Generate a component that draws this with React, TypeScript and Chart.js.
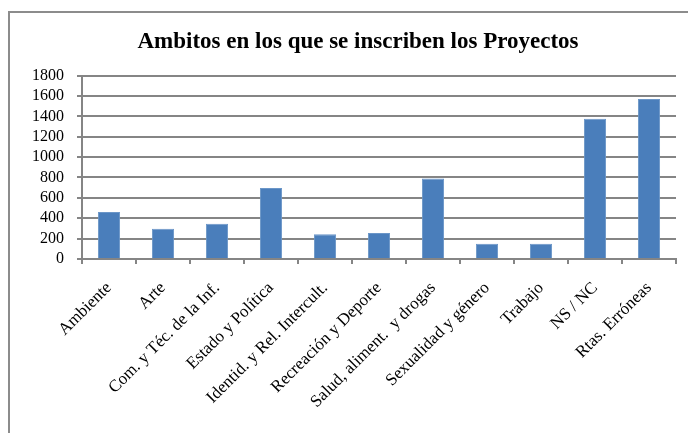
import React, { useEffect, useRef } from "react";
import { Chart, registerables } from "chart.js";

Chart.register(...registerables);

const titleText = "Ambitos en los que se inscriben los Proyectos";
const categories = [
  "Ambiente",
  "Arte",
  "Com. y Téc. de la Inf.",
  "Estado y Política",
  "Identid. y Rel. Intercult.",
  "Recreación y Deporte",
  "Salud, aliment.  y drogas",
  "Sexualidad y género",
  "Trabajo",
  "NS / NC",
  "Rtas. Erróneas",
];
const values = [462, 298, 347, 698, 242, 256, 790, 150, 150, 1377, 1570];
const yMin = 0;
const yMax = 1800;
const yStep = 200;

export default function App() {
  const ref = useRef<HTMLCanvasElement>(null);
  useEffect(() => {
    if (!ref.current) return;
    Chart.defaults.color = "#000";
    const chart = new Chart(ref.current, {
      type: "bar",
      data: {
        labels: categories,
        datasets: [
          {
            data: values,
            backgroundColor: "#4a7ebb",
            borderColor: "#6b96c8",
            borderWidth: 1,
            barPercentage: 0.41,
            categoryPercentage: 1,
          },
        ],
      },
      options: {
        responsive: false,
        animation: false,
        layout: { padding: { left: 28, right: 0, top: 0, bottom: 0 } },
        plugins: {
          legend: { display: false },
          tooltip: { enabled: false },
          title: {
            display: true,
            text: titleText,
            color: "#000",
            font: { family: "'Liberation Serif'", size: 23, weight: "bold" },
            padding: { top: 28, bottom: 20 },
          },
        },
        scales: {
          x: {
            grid: {
              offset: true,
              drawOnChartArea: false,
              drawTicks: true,
              tickLength: 5,
              color: "#858585",
              lineWidth: 2,
            },
            border: { color: "#858585", width: 2 },
            ticks: {
              minRotation: 45,
              maxRotation: 45,
              autoSkip: false,
              padding: 14,
              color: "#000",
              font: { family: "'Liberation Serif'", size: 17 },
            },
            afterFit: (s: any) => {
              s.height = 174;
            },
          },
          y: {
            min: yMin,
            max: yMax,
            grid: {
              color: "#858585",
              lineWidth: 2,
              tickLength: 5,
            },
            border: { color: "#858585", width: 2 },
            ticks: {
              stepSize: yStep,
              autoSkip: false,
              padding: 13,
              color: "#000",
              font: { family: "'Liberation Serif'", size: 16 },
              callback: (v: any) => String(v),
            },
            afterFit: (s: any) => {
              s.width = 54;
            },
          },
          yRight: {
            position: "right",
            display: true,
            min: yMin,
            max: yMax,
            grid: { display: false, drawTicks: false },
            border: { display: false },
            ticks: { display: false },
            afterFit: (s: any) => {
              s.width = 12;
            },
          },
        },
      },
    });
    return () => chart.destroy();
  }, []);
  return (
    <div style={{ position: "fixed", left: 0, top: 0, width: 688, height: 433, background: "#fff" }}>
      <div
        style={{
          position: "absolute",
          left: 8,
          top: 11,
          right: 0,
          bottom: 0,
          borderLeft: "2px solid #8c8c8c",
          borderTop: "2px solid #8c8c8c",
        }}
      />
      <canvas ref={ref} width={688} height={433} style={{ position: "absolute", left: 0, top: 0 }} />
    </div>
  );
}
